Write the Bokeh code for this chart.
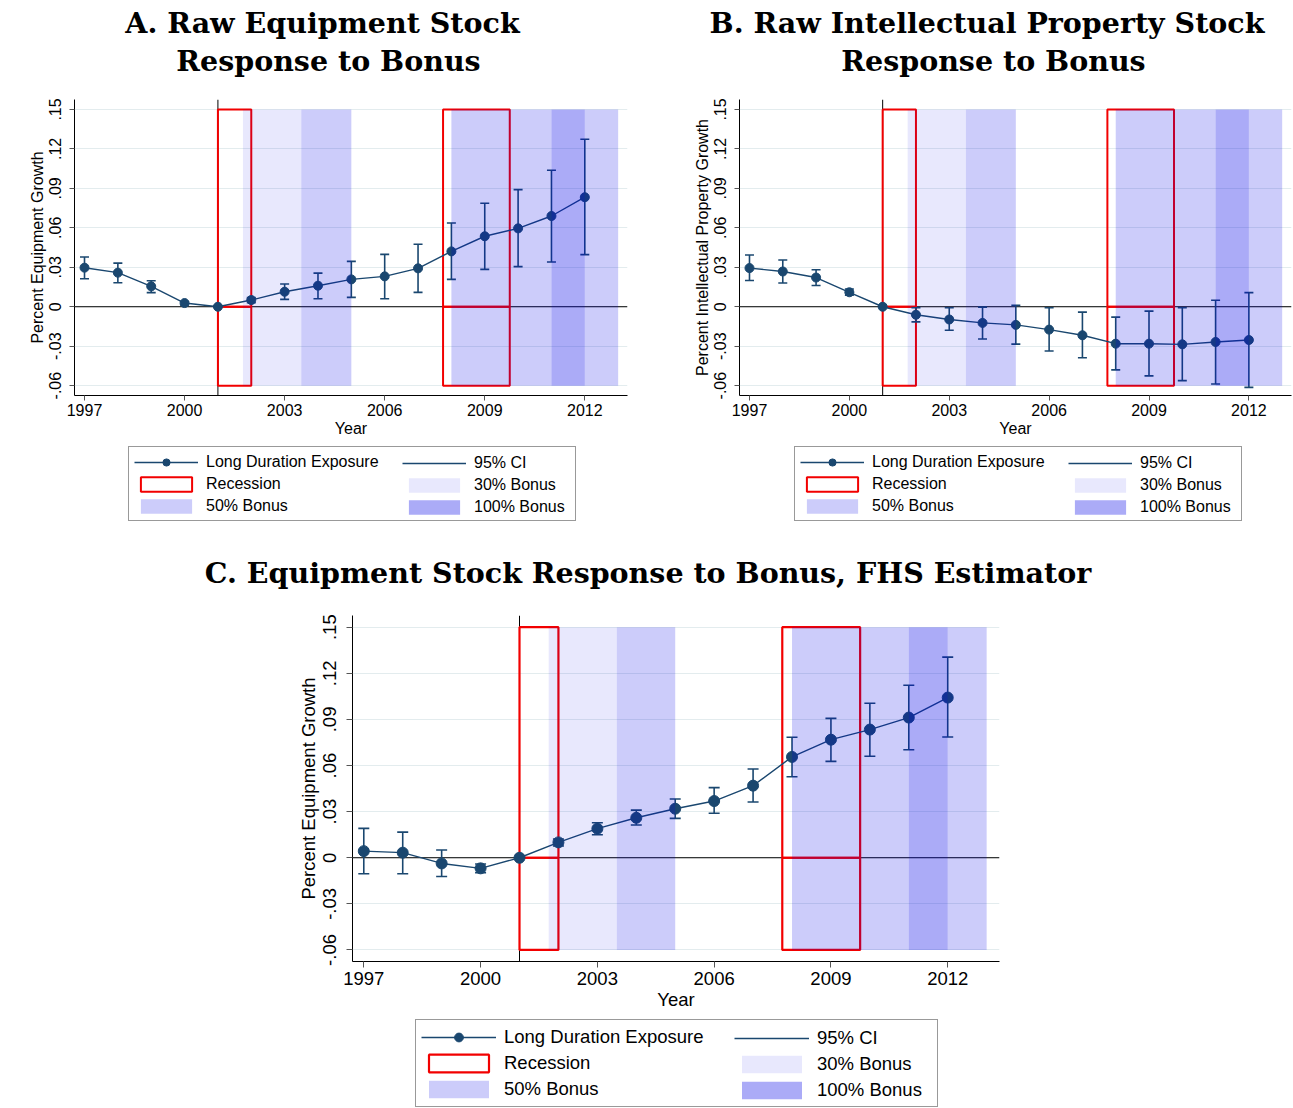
import math
from bokeh.plotting import figure
from bokeh.models import Range1d, FixedTicker, Span, Legend, LegendItem, Label
from bokeh.layouts import column, row
from bokeh.embed import file_html
from bokeh.resources import INLINE

nan = float("nan")

years = [1997, 1998, 1999, 2000, 2001, 2002, 2003, 2004, 2005, 2006, 2007, 2008, 2009, 2010, 2011, 2012]

# Panel A: Raw equipment stock
a_coef = [0.0297, 0.0259, 0.0155, 0.0028, 0.0, 0.0051, 0.0114, 0.0160, 0.0208, 0.0231, 0.0292, 0.0421, 0.0536, 0.0596, 0.0690, 0.0833]
a_hi = [0.0378, 0.0332, 0.0198, 0.0040, nan, 0.0069, 0.0173, 0.0256, 0.0345, 0.0398, 0.0475, 0.0637, 0.0787, 0.0891, 0.1038, 0.1274]
a_lo = [0.0213, 0.0183, 0.0107, 0.0013, nan, 0.0030, 0.0056, 0.0061, 0.0071, 0.0061, 0.0109, 0.0208, 0.0284, 0.0305, 0.0340, 0.0396]

# Panel B: Raw intellectual property stock
b_coef = [0.0294, 0.0268, 0.0222, 0.0110, 0.0, -0.0061, -0.0097, -0.0123, -0.0138, -0.0174, -0.0217, -0.0281, -0.0281, -0.0286, -0.0268, -0.0253]
b_hi = [0.0394, 0.0355, 0.0281, 0.0135, nan, -0.0008, -0.0008, -0.0003, 0.0010, -0.0008, -0.0041, -0.0079, -0.0033, -0.0008, 0.0049, 0.0107]
b_lo = [0.0199, 0.0181, 0.0161, 0.0087, nan, -0.0115, -0.0179, -0.0245, -0.0284, -0.0337, -0.0388, -0.0480, -0.0526, -0.0562, -0.0588, -0.0613]

# Panel C: FHS estimator
c_coef = [0.0043, 0.0033, -0.0037, -0.0069, 0.0, 0.0100, 0.0189, 0.0260, 0.0319, 0.0369, 0.0469, 0.0656, 0.0768, 0.0834, 0.0912, 0.1042]
c_hi = [0.0191, 0.0167, 0.0050, -0.0041, nan, 0.0122, 0.0228, 0.0310, 0.0382, 0.0456, 0.0577, 0.0784, 0.0907, 0.1005, 0.1122, 0.1305]
c_lo = [-0.0104, -0.0104, -0.0122, -0.0098, nan, 0.0076, 0.0150, 0.0213, 0.0256, 0.0289, 0.0363, 0.0527, 0.0627, 0.0660, 0.0703, 0.0786]

# Recessions and bonus periods (years)
rec_start = [2001.0, 2007.75]
rec_end = [2002.0, 2009.75]
b30_start = [2001.75]
b30_end = [2003.5]
b50_start = [2003.5, 2008.0, 2012.0]
b50_end = [2005.0, 2011.0, 2013.0]
b100_start = [2011.0]
b100_end = [2012.0]
shade_floor = -0.06
shade_ceiling = 0.15

yticks = [-0.06, -0.03, 0.0, 0.03, 0.06, 0.09, 0.12, 0.15]
ylabels = ["-.06", "-.03", "0", ".03", ".06", ".09", ".12", ".15"]
xticks = [1997, 2000, 2003, 2006, 2009, 2012]
xlabels = ["1997", "2000", "2003", "2006", "2009", "2012"]

NAVY = "#1A476F"
RED = "#F20000"
BAND = "#0000E6"
A30, A50, A100 = 0.09, 0.2, 0.33
SANS = "Liberation Sans"
SERIF = "DejaVu Serif"


def no_align(f):
    if "frame_align" in f.properties():
        f.frame_align = False
    return f


def make_panel(coef, hi, lo, ylab, g):
    p = figure(width=g["w"], height=g["h"], output_backend="svg", toolbar_location=None,
               x_range=Range1d(*g["xr"]), y_range=Range1d(-0.0675, 0.1576),
               min_border_left=g["bl"], min_border_right=g["br"],
               min_border_top=g["bt"], min_border_bottom=g["bb"])
    no_align(p)
    p.outline_line_color = None
    p.background_fill_color = "white"
    p.border_fill_color = "white"
    fs = g["fs"]

    p.xaxis.ticker = FixedTicker(ticks=xticks)
    p.xaxis.major_label_overrides = {t: l for t, l in zip(xticks, xlabels)}
    p.yaxis.ticker = FixedTicker(ticks=yticks)
    p.yaxis.major_label_overrides = {t: l for t, l in zip(yticks, ylabels)}
    p.yaxis.major_label_orientation = "vertical"
    for ax in (p.xaxis[0], p.yaxis[0]):
        ax.minor_tick_line_color = None
        ax.major_tick_in = 0
        ax.major_tick_out = g["tick"]
        ax.major_tick_line_color = "#555555"
        ax.axis_line_color = "black"
        ax.axis_line_width = 1
        ax.major_label_text_font = SANS
        ax.major_label_text_font_size = fs
        ax.major_label_text_color = "black"
        ax.axis_label_text_font = SANS
        ax.axis_label_text_font_size = fs
        ax.axis_label_text_font_style = "normal"
        ax.axis_label_text_color = "black"
    p.xaxis.axis_label = "Year"
    p.yaxis.axis_label = ylab
    p.xaxis.major_label_standoff = g["xst"]
    p.xaxis.axis_label_standoff = g["xast"]
    p.yaxis.major_label_standoff = g["yst"]
    p.yaxis.axis_label_standoff = g["yast"]

    p.xgrid.visible = False
    p.ygrid.ticker = FixedTicker(ticks=yticks)
    p.ygrid.grid_line_color = "#E3ECEE"
    p.ygrid.grid_line_width = 1

    p.add_layout(Span(location=0, dimension="width", line_color="black", line_width=1, level="underlay"))
    p.add_layout(Span(location=2001, dimension="height", line_color="black", line_width=1, level="underlay"))

    # recession boxes (split at zero)
    rl = rec_start + rec_start
    rr = rec_end + rec_end
    rb = [0.0] * len(rec_start) + [shade_floor] * len(rec_start)
    rt = [shade_ceiling] * len(rec_start) + [0.0] * len(rec_start)
    p.quad(left=rl, right=rr, bottom=rb, top=rt, fill_color=None,
           line_color=RED, line_width=g["rw"])

    # estimates
    p.line(years, coef, line_color=NAVY, line_width=1.4)
    p.segment(x0=years, y0=lo, x1=years, y1=hi, line_color=NAVY, line_width=1.6)
    p.scatter(years + years, hi + lo, marker="dash", size=g["cap"],
              line_color=NAVY, line_width=1.6)
    p.scatter(years, coef, marker="circle", size=g["ms"], fill_color=NAVY, line_color=NAVY)

    # bonus shading
    p.quad(left=b30_start, right=b30_end, bottom=[shade_floor] * len(b30_start),
           top=[shade_ceiling] * len(b30_start), fill_color=BAND, fill_alpha=A30, line_color=None)
    p.quad(left=b50_start, right=b50_end, bottom=[shade_floor] * len(b50_start),
           top=[shade_ceiling] * len(b50_start), fill_color=BAND, fill_alpha=A50, line_color=None)
    p.quad(left=b100_start, right=b100_end, bottom=[shade_floor] * len(b100_start),
           top=[shade_ceiling] * len(b100_start), fill_color=BAND, fill_alpha=A100, line_color=None)
    return p


def strip(width, height):
    f = figure(width=width, height=height, output_backend="svg", toolbar_location=None,
               x_range=Range1d(0, 1), y_range=Range1d(0, 1), x_axis_type=None, y_axis_type=None,
               min_border_left=0, min_border_right=0, min_border_top=0, min_border_bottom=0)
    no_align(f)
    f.outline_line_color = None
    f.background_fill_color = "white"
    f.border_fill_color = "white"
    f.grid.visible = False
    return f


def title_strip(width, height, lines, fs):
    f = strip(width, height)
    for text, cx, base in lines:
        f.add_layout(Label(x=cx, y=height - base, x_units="screen", y_units="screen",
                           text=text, text_align="center", text_baseline="alphabetic",
                           text_font=SERIF, text_font_size=fs, text_font_style="bold",
                           text_color="black"))
    return f


def legend_strip(width, height, specs):
    """Strip carrying the legend keys; its key renderers lie outside the strip's own ranges."""
    f = strip(width, height)
    for L in specs:
        ln = f.line(years[:2], a_coef[:2], line_color=NAVY, line_width=1.4)
        mk = f.scatter(years[:1], a_coef[:1], marker="circle", fill_color=NAVY, line_color=NAVY)
        ci = f.segment(x0=years[:1], y0=a_lo[:1], x1=years[:1], y1=a_hi[:1],
                       line_color=NAVY, line_width=1.6)
        rec = f.quad(left=rec_start, right=rec_end, bottom=[0.0] * len(rec_start),
                     top=[shade_ceiling] * len(rec_start), fill_color=None,
                     line_color=RED, line_width=L["rw"])
        r30 = f.quad(left=b30_start, right=b30_end, bottom=[shade_floor] * len(b30_start),
                     top=[shade_ceiling] * len(b30_start), fill_color=BAND, fill_alpha=A30, line_color=None)
        r50 = f.quad(left=b50_start, right=b50_end, bottom=[shade_floor] * len(b50_start),
                     top=[shade_ceiling] * len(b50_start), fill_color=BAND, fill_alpha=A50, line_color=None)
        r100 = f.quad(left=b100_start, right=b100_end, bottom=[shade_floor] * len(b100_start),
                      top=[shade_ceiling] * len(b100_start), fill_color=BAND, fill_alpha=A100, line_color=None)
        common = dict(orientation="vertical", glyph_width=L["gw"], glyph_height=L["gh"],
                      label_height=L["lh"], label_standoff=L["st"], spacing=L["sp"],
                      padding=L["pad"], margin=0, label_text_font=SANS,
                      label_text_font_size=L["fs"], label_text_color="black",
                      border_line_width=1, background_fill_color="white")
        leg1 = Legend(items=[LegendItem(label="Long Duration Exposure", renderers=[ln, mk]),
                             LegendItem(label="Recession", renderers=[rec]),
                             LegendItem(label="50% Bonus", renderers=[r50])],
                      location=(L["x1"], L["y"]), label_width=L["lw"],
                      border_line_color="#333333", background_fill_alpha=1.0, **common)
        leg2 = Legend(items=[LegendItem(label="95% CI", renderers=[ci]),
                             LegendItem(label="30% Bonus", renderers=[r30]),
                             LegendItem(label="100% Bonus", renderers=[r100])],
                      location=(L["x2"], L["y"]), label_width=20,
                      border_line_color="#333333", border_line_alpha=0.0,
                      background_fill_alpha=0.0, **common)
        f.add_layout(leg1)
        f.add_layout(leg2)
    return f


# vertical bands of the page (pixels)
T1_H = 90       # titles A/B
TOP_H = 356     # plots A/B  (frame 99..395)
L1_H = 94       # legends A/B
T2_H = 60       # title C
C_H = 414       # plot C (frame 615..961)
L2_H = 94       # legend C
W = 1292
TFS = "28.5px"

gA = dict(w=661, h=TOP_H, xr=(1996.70, 2013.28), bl=74, br=34, bt=9, bb=51,
          fs="16px", tick=5, xst=3, xast=1, yst=8, yast=1, rw=2, cap=9, ms=9)
gB = dict(gA)
gB.update(w=631, bl=78, br=1)
gC = dict(w=W, h=C_H, xr=(1996.71, 2013.33), bl=352, br=293, bt=15, bb=53,
          fs="18.5px", tick=6, xst=4, xast=1, yst=10, yast=2, rw=2.2, cap=11, ms=11)

pA = make_panel(a_coef, a_hi, a_lo, "Percent Equipment Growth", gA)
pB = make_panel(b_coef, b_hi, b_lo, "Percent Intellectual Property Growth", gB)
pC = make_panel(c_coef, c_hi, c_lo, "Percent Equipment Growth", gC)

t1 = title_strip(W, T1_H, [("A. Raw Equipment Stock", 322, 22.5),
                           ("Response to Bonus", 328, 60),
                           ("B. Raw Intellectual Property Stock", 986.5, 22.5),
                           ("Response to Bonus", 993, 60)], TFS)
t2 = title_strip(W, T2_H, [("C. Equipment Stock Response to Bonus, FHS Estimator", 647.5, 32.5)], TFS)

legAB = dict(gw=64, gh=18, lh=19, st=8, sp=3, pad=5, fs="16px", lw=364, rw=2)
legA = dict(legAB, x1=128, x2=397, y=(T1_H + TOP_H + L1_H) - 521)
legB = dict(legAB, x1=794, x2=1063, y=(T1_H + TOP_H + L1_H) - 521)
legC = dict(gw=75, gh=22, lh=24, st=8, sp=2, pad=5, fs="18.5px", lw=428, rw=2.2,
            x1=415, x2=729, y=1)

l1 = legend_strip(W, L1_H, [legA, legB])
l2 = legend_strip(W, L2_H, [legC])

layout = column(t1, row(pA, pB), l1, t2, pC, l2)
open("out.html", "w").write(file_html(layout, INLINE))
